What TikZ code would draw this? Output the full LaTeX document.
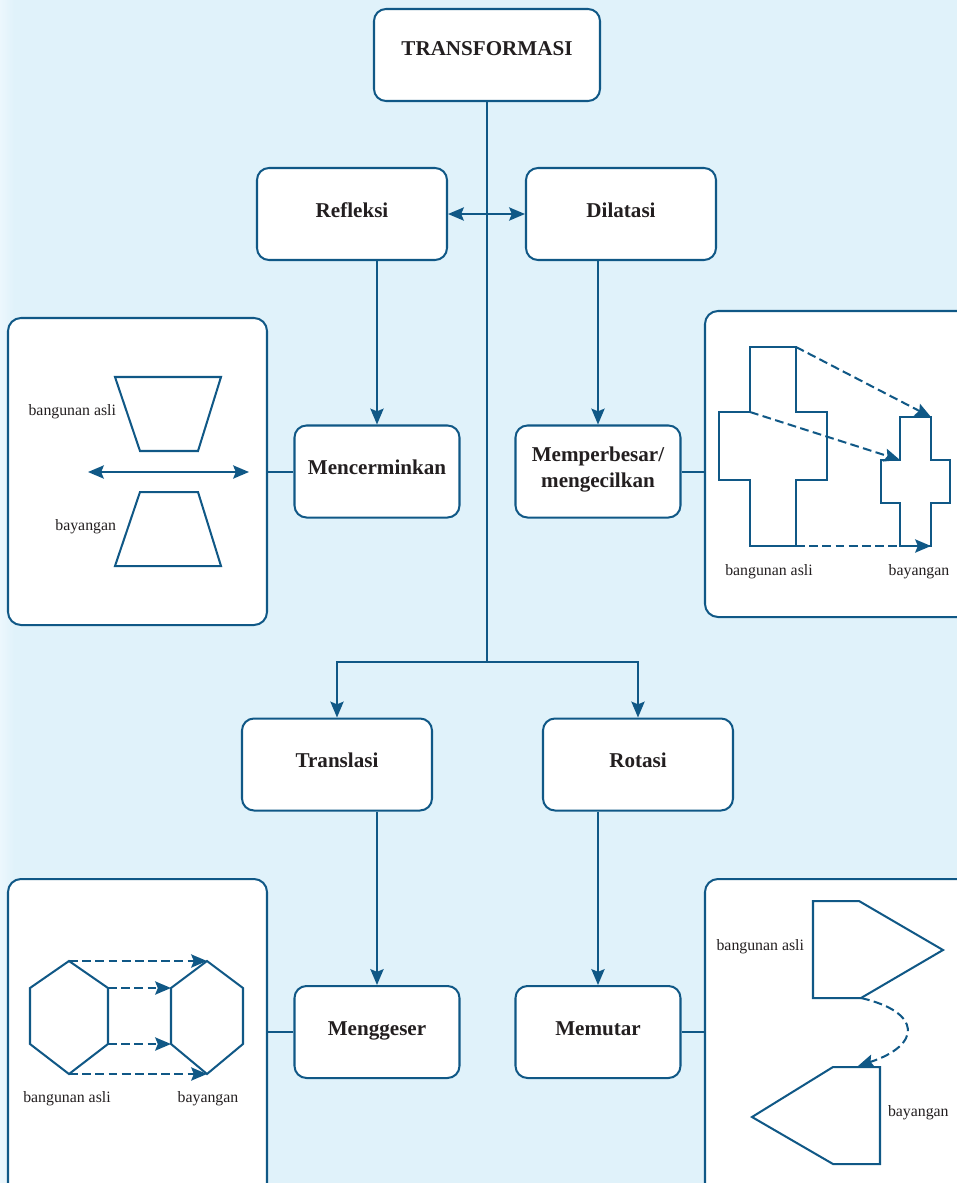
\documentclass[tikz,border=0pt]{standalone}
\usepackage{fontspec}
\setmainfont{Liberation Serif}
\usetikzlibrary{arrows.meta,positioning}
\definecolor{tblue}{RGB}{16,88,134}
\definecolor{bgblue}{RGB}{224,242,250}
\definecolor{bgedge}{RGB}{236,247,253}
\definecolor{ink}{RGB}{35,31,32}

\begin{document}
\begin{tikzpicture}[
  x=0.2mm, y=-0.2mm,
  line width=1.15pt, color=tblue,
  box/.style={draw, fill=white, rounded corners=2.4mm, align=center, minimum width=#1, minimum height=18.4mm, text height=8pt, text depth=4.5pt, text=ink, font=\fontsize{12}{14.7}\selectfont\bfseries},
  box/.default=38mm,
  panel/.style={draw, fill=white, rounded corners=2.6mm, minimum width=#1},
  panel/.default=51.8mm,
  lbl/.style={text=ink, font=\fontsize{9}{11}\selectfont, inner sep=0pt},
  mv/.style={->, dash pattern=on 5pt off 2.5pt},
  >={Stealth[length=9pt, width=7.5pt, inset=1.5pt]},
]
\path[clip] (0,0) rectangle (957,1183);
\fill[bgblue] (0,0) rectangle (957,1183);
\shade[left color=bgedge, right color=bgblue] (0,0) rectangle (14,1183);

\node[box=45.2mm, text depth=8pt] (T) at (487,55) {TRANSFORMASI};
\node[box] (ref) at (352,214) {Refleksi};
\node[box] (dil) at (621,214) {Dilatasi};
\node[box=33mm] (cer) at (377,471.5) {Mencerminkan};
\node[box=33mm, text height=22.7pt] (bes) at (598,471.5) {Memperbesar/\\mengecilkan};
\node[box] (tra) at (337,764.5) {Translasi};
\node[box] (rot) at (638,764.5) {Rotasi};
\node[box=33mm] (ges) at (377,1032) {Menggeser};
\node[box=33mm] (put) at (598,1032) {Memutar};

\node[panel, minimum height=61.4mm] (pA) at (137.5,471.5) {};
\node[panel=53mm, minimum height=61.2mm] (pB) at (837.5,464) {};
\node[panel, minimum height=64.2mm] (pC) at (137.5,1039.5) {};
\node[panel=53mm, minimum height=64.2mm] (pD) at (837.5,1039.5) {};

\coordinate (J) at (487,662);
\draw (T.south) -- (J);
\foreach \n in {tra,rot} \draw[->] (J) -| (\n.north);
\draw[<->] (ref.east) -- (dil.west);
\foreach \a/\b in {ref/cer,dil/bes,tra/ges,rot/put} \draw[->] (\b.north |- \a.south) -- (\b.north);
\foreach \a/\b in {cer/pA,ges/pC} \draw (\a.west) -- (\a.west -| \b.east);
\foreach \a/\b in {bes/pB,put/pD} \draw (\a.east) -- (\a.east -| \b.west);

\draw (115,377) -- (221,377) -- (198,451) -- (140,451) -- cycle;
\draw (140,492) -- (198,492) -- (221,566) -- (115,566) -- cycle;
\draw[<->] (88,472) -- (249,472);
\node[lbl, anchor=east] (aA) at (117,412) {bangunan asli};
\node[lbl, anchor=east] (bA) at (117,527) {bayangan};

\draw (750,347) -- (796,347) -- (796,412) -- (827,412) -- (827,480) -- (796,480) -- (796,546) -- (750,546) -- (750,480) -- (719,480) -- (719,412) -- (750,412) -- cycle;
\draw (900,417) -- (931,417) -- (931,460) -- (950,460) -- (950,503) -- (931,503) -- (931,546) -- (900,546) -- (900,503) -- (881,503) -- (881,460) -- (900,460) -- cycle;
\draw[mv] (796,347) -- (931,417);
\draw[mv] (750,412) -- (900,460);
\draw[mv] (796,546) -- (931,546);
\node[lbl] (aB) at (769,572) {bangunan asli};
\node[lbl] (bB) at (919,572) {bayangan};

\draw (69,961) -- (108,988) -- (108,1044) -- (69,1074) -- (30,1044) -- (30,988) -- cycle;
\draw (207,961) -- (243,988) -- (243,1044) -- (207,1074) -- (171,1044) -- (171,988) -- cycle;
\draw[mv] (69,961) -- (207,961);
\draw[mv] (108,988) -- (171,988);
\draw[mv] (108,1044) -- (171,1044);
\draw[mv] (69,1074) -- (207,1074);
\node[lbl] (aC) at (67,1099) {bangunan asli};
\node[lbl] (bC) at (208,1099) {bayangan};

\draw (813,901) -- (859,901) -- (943,950) -- (861,998) -- (813,998) -- cycle;
\draw (880,1067) -- (833,1067) -- (752,1117) -- (833,1164) -- (880,1164) -- cycle;
\draw[mv] (861,998) .. controls (922,1012) and (922,1045) .. (858,1066);
\node[lbl, anchor=east] (aD) at (805,947) {bangunan asli};
\node[lbl, anchor=west] (bD) at (887,1113) {bayangan};
\end{tikzpicture}
\end{document}
